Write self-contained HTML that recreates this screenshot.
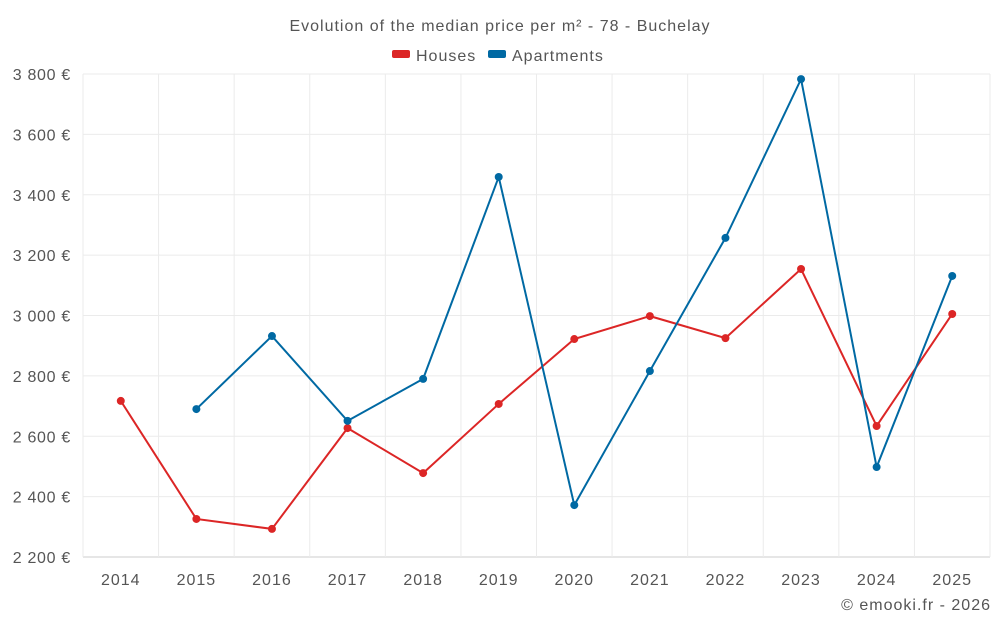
<!DOCTYPE html>
<html><head><meta charset="utf-8"><style>
body{margin:0;background:#fff;font-family:"Liberation Sans",sans-serif;}
svg text{font-family:"Liberation Sans",sans-serif;fill:#555;letter-spacing:1px;}
svg text.yt{letter-spacing:0.7px;}
</style></head><body>
<svg id="chart" width="1000" height="625">
<text x="500" y="31" text-anchor="middle" font-size="16">Evolution of the median price per m² - 78 - Buchelay</text>
<g>
<g><rect x="392" y="50" width="18" height="8" rx="2" fill="#dc2626"/><text x="416" y="61" font-size="16">Houses</text></g>
<g><rect x="488" y="50" width="18" height="8" rx="2" fill="#0069a3"/><text x="512" y="61" font-size="16">Apartments</text></g>
</g>
<g id="grid"></g>
<g id="axes"></g>
<g id="series"></g>
<text x="991" y="610" text-anchor="end" font-size="16">© emooki.fr - 2026</text>
</svg>
<script>
const years=["2014","2015","2016","2017","2018","2019","2020","2021","2022","2023","2024","2025"];
const houses=[2717,2326,2293,2627,2478,2707,2922,2998,2925,3154,2634,3005];
const apartments=[null,2690,2932,2651,2790,3459,2372,2816,3257,3783,2498,3131];
const yTicks=[2200,2400,2600,2800,3000,3200,3400,3600,3800];
const L=83,R=990,T=74,B=557,ymin=2200,ymax=3800;
const bw=(R-L)/years.length;
const xs=i=>L+bw*(i+0.5);
const ys=v=>B-(v-ymin)/(ymax-ymin)*(B-T);
const NS="http://www.w3.org/2000/svg";
function mk(tag,attrs,parent){const e=document.createElementNS(NS,tag);for(const k in attrs)e.setAttribute(k,attrs[k]);parent.appendChild(e);return e;}
const grid=document.getElementById('grid'),axes=document.getElementById('axes'),ser=document.getElementById('series');
yTicks.forEach(v=>{
 const l=mk('line',{x1:L,x2:R,y1:ys(v),y2:ys(v),stroke:v===ymin?'#ccc':'#ebebeb'},grid);
 
 
 const t=mk('text',{x:71,y:ys(v)+6,'text-anchor':'end','font-size':16,'class':'yt'},axes);
 t.textContent=String(v).replace(/\B(?=(\d{3})+$)/,' ')+' €';
 
 
});
for(let i=0;i<=years.length;i++){
 const l=mk('line',{x1:L+bw*i,x2:L+bw*i,y1:T,y2:B,stroke:'#ebebeb'},grid);
 
 
}
years.forEach((y,i)=>{
 const t=mk('text',{x:xs(i),y:585,'text-anchor':'middle','font-size':16},axes);
 t.textContent=y;
 
 
});
function draw(data,color,name){
 const pts=[];data.forEach((v,i)=>{if(v!=null)pts.push([xs(i),ys(v)]);});
 const p=mk('polyline',{points:pts.map(p=>p.join(',')).join(' '),fill:'none',stroke:color,'stroke-width':2},ser);
 
 
 pts.forEach(q=>{
  const c=mk('circle',{cx:q[0],cy:q[1],r:4,fill:color},ser);
  
  
 });
}
draw(houses,'#dc2626','houses');
draw(apartments,'#0069a3','apartments');
</script>
</body></html>
